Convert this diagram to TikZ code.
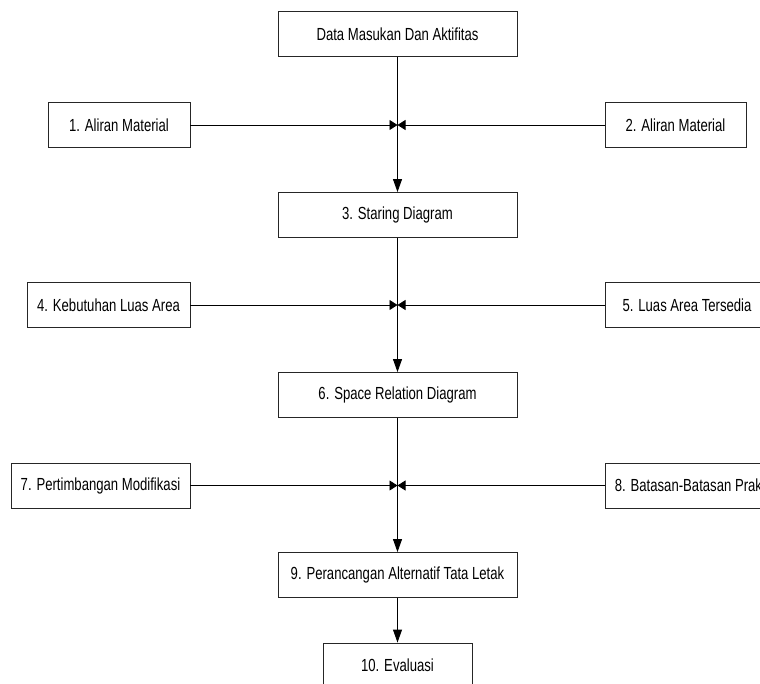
\documentclass[tikz,border=0pt]{standalone}
\usepackage{fontspec}
\setmainfont{Liberation Sans}[FakeStretch=0.75]
\usetikzlibrary{arrows.meta}

\tikzset{
	kotak/.style={draw=black!85, line width=0.9pt, rectangle, minimum height=45pt, inner sep=2pt, font=\fontsize{17.5pt}{20pt}\selectfont},
	panah/.style={->, >={Triangle[length=13pt, width=9pt]}, line width=0.9pt},
	panahh/.style={->, >={Triangle[length=8pt, width=10pt]}, line width=0.9pt}
}

\begin{document}
\begin{tikzpicture}[x=1pt, y=-1pt]
				\useasboundingbox (0, 0) rectangle (760, 683);
				\clip (0, 0) rectangle (760, 683);
				% kolom tengah
				\node[kotak, minimum width=239pt] (data)at(397.5, 34) {Data Masukan Dan Aktifitas};
				\node[kotak, minimum width=239pt] (sd)at(397.5, 215) {3. Staring Diagram};
				\node[kotak, minimum width=239pt] (srd)at(397.5, 395) {6. Space Relation Diagram};
				\node[kotak, minimum width=239pt] (pat)at(397.5, 575) {9. Perancangan Alternatif Tata Letak};
				\node[kotak, minimum width=149pt] (eval)at(397.5, 665.5) {10. Evaluasi};
				% kiri
				\node[kotak, minimum width=142pt] (am1)at(119, 125) {1. Aliran Material};
				\node[kotak, minimum width=163pt] (kla)at(108.5, 305) {4. Kebutuhan Luas Area};
				\node[kotak, minimum width=179pt] (pm)at(100.5, 485.5) {7. Pertimbangan Modifikasi};
				% kanan
				\node[kotak, minimum width=141pt] (am2)at(675.5, 125) {2. Aliran Material};
				\node[kotak, minimum width=164pt] (lat)at(687, 305) {5. Luas Area Tersedia};
				\node[kotak, minimum width=180pt] (bbp)at(695, 485.5) {8. Batasan-Batasan Praktis};
				% titik temu
				\coordinate (t1)at(397.5, 125);
				\coordinate (t2)at(397.5, 305);
				\coordinate (t3)at(397.5, 485.5);
				\draw[panah] (data) -- (sd);
				\draw[panah] (sd) -- (srd);
				\draw[panah] (srd) -- (pat);
				\draw[panah] (pat) -- (eval);
				\draw[panahh] (am1) -- (t1);
				\draw[panahh] (am2) -- (t1);
				\draw[panahh] (kla) -- (t2);
				\draw[panahh] (lat) -- (t2);
				\draw[panahh] (pm) -- (t3);
				\draw[panahh] (bbp) -- (t3);
			\end{tikzpicture}
\end{document}
